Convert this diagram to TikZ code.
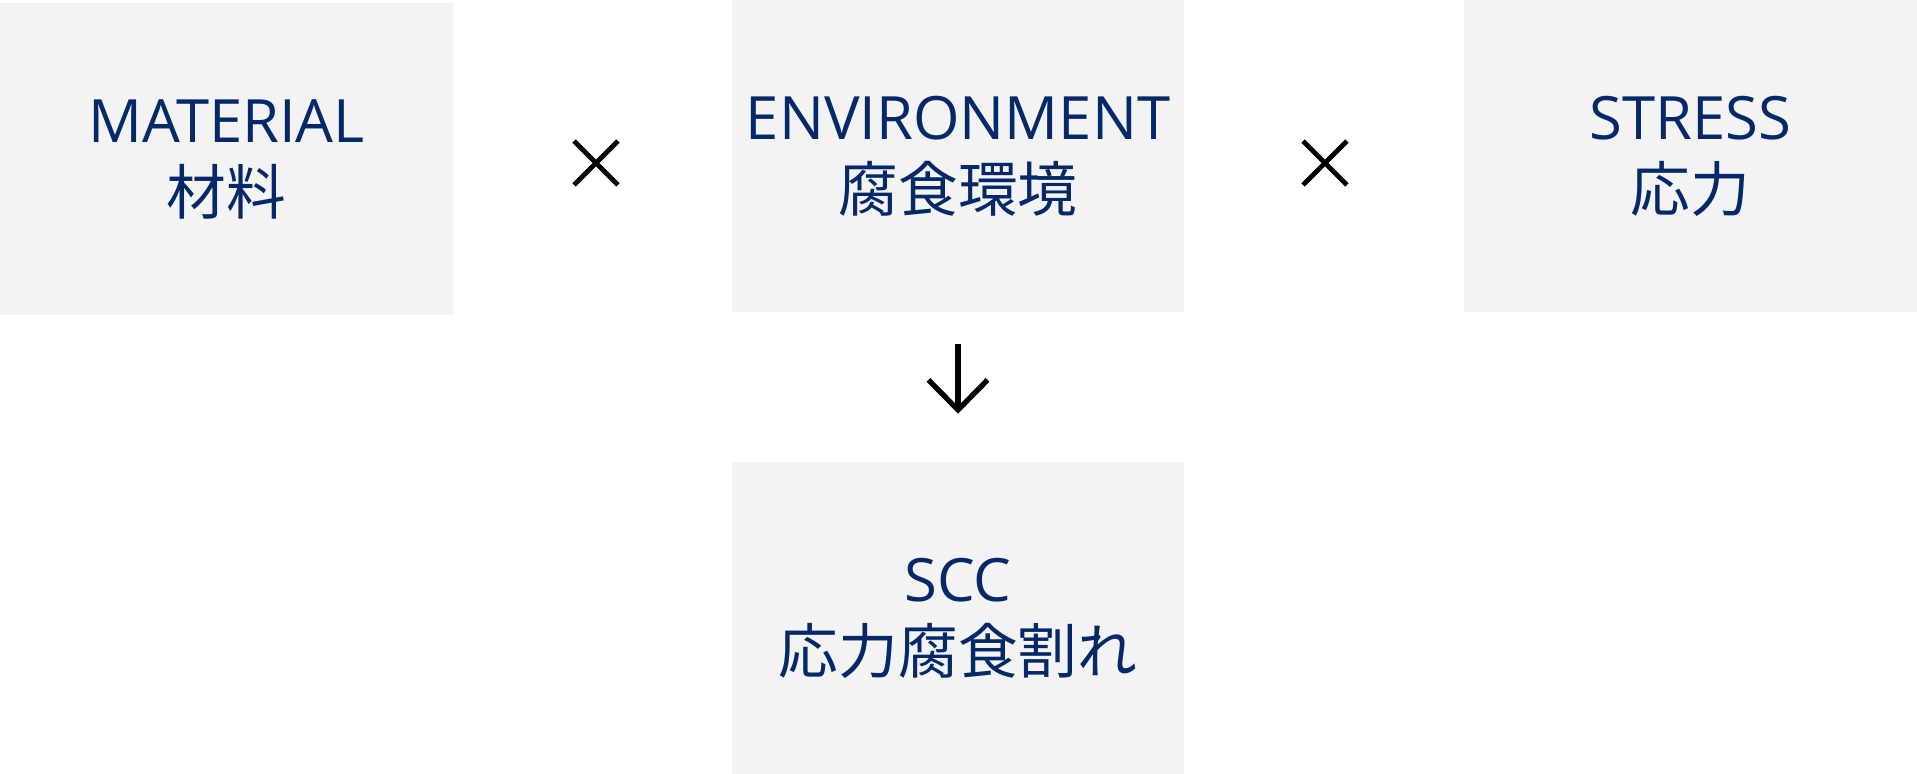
\documentclass[tikz,border=0pt]{standalone}
\usepackage{fontspec}
\setmainfont{Open Sans}
\newfontfamily\jp{Noto Sans CJK JP}
\usetikzlibrary{positioning, shapes.misc, arrows.meta}
\definecolor{navy}{RGB}{5,40,105}
\definecolor{boxgray}{RGB}{243,243,243}

\begin{document}
\begin{tikzpicture}[
        x=0.02cm, y=-0.02cm,
        factor/.style={rectangle, fill=boxgray, text=navy, align=center,
            minimum width=9.06cm, minimum height=6.24cm, inner sep=0pt,
            font=\fontsize{34}{41}\selectfont},
        times/.style={cross out, draw=black, line width=2.8pt, minimum size=0.78cm, inner sep=0pt},
        flow/.style={line width=3pt, -{Straight Barb[length=0.6cm, width=1.18cm, line width=3pt]}}]

        \useasboundingbox (0,0) rectangle (1917,774);

        \node[factor] (mat) at (226.5,159) {MATERIAL\\{\jp 材料}};
        \node[factor] (env) at (958,156) {ENVIRONMENT\\{\jp 腐食環境}};
        \node[factor] (str) at (1690.5,156) {STRESS\\{\jp 応力}};
        \node[factor] (scc) at (958,618) {SCC\\{\jp 応力腐食割れ}};

        \node[times] (x1) at (596,163) {};
        \node[times] (x2) at (1325,163) {};

        \draw[flow, shorten <=0.64cm, shorten >=0.96cm] (env.south) -- (scc.north);

    \end{tikzpicture}
\end{document}
